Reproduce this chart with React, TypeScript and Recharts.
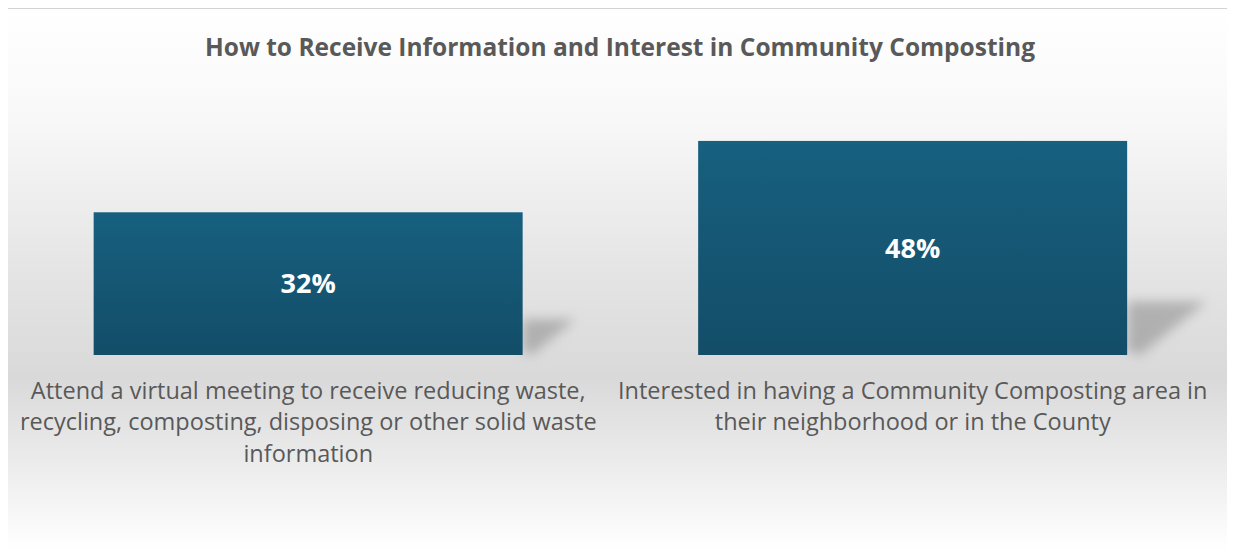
import { Bar, BarChart, LabelList, XAxis, YAxis } from "recharts";

const categories = [
    "Attend a virtual meeting to receive reducing waste,\nrecycling, composting, disposing or other solid waste\ninformation",
    "Interested in having a Community Composting area in\ntheir neighborhood or in the County",
];
const percentages = [32, 48];
const yDomain = [0, 50];

const data = categories.map((name, i) => ({ name, value: percentages[i] }));

const FONT = "'Open Sans', Lato, sans-serif";

const WrappedTick = (props: any) => {
    const { x, y, payload } = props;
    const lines: string[] = String(payload.value).split("\n");
    return (
        <text x={x} y={y} textAnchor="middle" fill="#595959" fontSize={23.5} fontFamily={FONT}>
            {lines.map((line, i) => (
                <tspan key={i} x={x} dy={i === 0 ? 43.5 : 31.5}>{line}</tspan>
            ))}
        </text>
    );
};

const ShadowBar = (props: any) => {
    const { x, y, width, height, index } = props;
    const bottom = y + height;
    const right = x + width;
    const sh = height * 0.25;
    const sw = height * 0.37;
    const gid = `barGrad${index}`;
    const fid = `barShadow${index}`;
    return (
        <g>
            <defs>
                <linearGradient id={gid} x1="0" y1="0" x2="0" y2="1">
                    <stop offset="0%" stopColor="#17607f" />
                    <stop offset="100%" stopColor="#134d68" />
                </linearGradient>
                <filter id={fid} x="-50%" y="-50%" width="200%" height="200%">
                    <feGaussianBlur stdDeviation="6" />
                </filter>
            </defs>
            <polygon
                points={`${right},${bottom - 4} ${right},${bottom - sh} ${right + sw},${bottom - sh} ${right + height * 0.06},${bottom}`}
                fill="#8a8a8a"
                opacity={0.55}
                filter={`url(#${fid})`}
            />
            <rect x={x} y={y} width={width} height={height} fill={`url(#${gid})`} />
        </g>
    );
};

export default function App() {
    return (
        <div
            style={{
                position: "relative",
                width: 1228,
                height: 560,
                marginLeft: -2,
                boxSizing: "border-box",
                border: "1px solid #d4d4d4",
                background: "linear-gradient(to bottom, #ffffff 0%, #f8f8f8 20%, #e6e6e6 45%, #d9d9d9 66%, #efefef 84%, #ffffff 97%)",
            }}
        >
            <div
                style={{
                    position: "absolute",
                    top: 23,
                    left: 0,
                    width: "100%",
                    textAlign: "center",
                    fontFamily: FONT,
                    fontWeight: "bold",
                    fontSize: 24.5,
                    lineHeight: "30px",
                    color: "#595959",
                }}
            >
                How to Receive Information and Interest in Community Composting
            </div>
            <div style={{ position: "absolute", left: -1, top: -1 }}>
                <BarChart width={1228} height={549} data={data} margin={{ top: 124, right: 19, left: 0, bottom: 0 }} barCategoryGap="14.5%">
                    <XAxis dataKey="name" axisLine={false} tickLine={false} tickSize={0} tickMargin={0} height={202} interval={0} tick={<WrappedTick />} />
                    <YAxis hide domain={yDomain} width={0} />
                    <Bar dataKey="value" shape={<ShadowBar />} isAnimationActive={false}>
                        <LabelList dataKey="value" position="center" fill="#ffffff" fontSize={27} fontWeight="bold" fontFamily={FONT} formatter={(v: any) => `${v}%`} />
                    </Bar>
                </BarChart>
            </div>
        </div>
    );
}
